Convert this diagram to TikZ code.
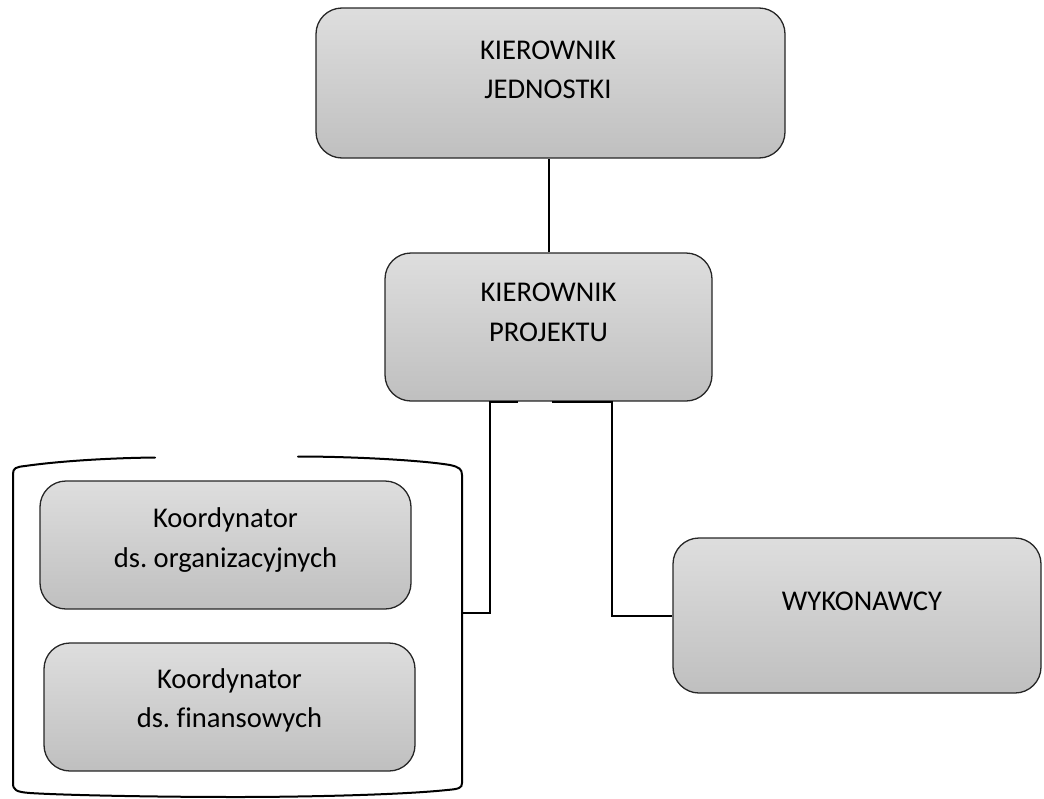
\documentclass[tikz,border=0pt]{standalone}
\usepackage{fontspec}
\setmainfont[Ligatures=NoCommon]{Carlito}
\frenchspacing
\begin{document}
\begin{tikzpicture}[x=1pt,y=-1pt,
  box/.style={draw=black!85, line width=1.3pt, rounded corners=26pt, top color=gray!26, bottom color=gray!50, inner sep=0pt},
  txt/.style={anchor=base, inner sep=0pt, font=\fontsize{28.6}{39}\selectfont},
  conn/.style={draw=black, line width=2pt},
  brk/.style={draw=black, line width=2pt, line cap=round}]
\useasboundingbox (0,0) rectangle (1044,798);
% boxes
\node[box, minimum width=469pt, minimum height=150pt] (kj) at (550.5,83) {};
\node[box, minimum width=327pt, minimum height=148pt] (kp) at (548.5,327) {};
\node[box, minimum width=368pt, minimum height=155pt] (wyk) at (857,615.5) {};
\node[box, minimum width=371pt, minimum height=128pt] (ko) at (225.5,545) {};
\node[box, minimum width=371pt, minimum height=128pt] (kf) at (229.5,707) {};
% texts
\node[txt] (kj1) at (548,59) {KIEROWNIK};
\node[txt] (kj2) at (548,98) {JEDNOSTKI};
\node[txt] (kp1) at (548.5,301) {KIEROWNIK};
\node[txt] (kp2) at (548.5,341) {PROJEKTU};
\node[txt] (wyk1) at (862,610) {WYKONAWCY};
\node[txt] (ko1) at (225.5,527) {Koordynator};
\node[txt] (ko2) at (225.5,567) {ds. organizacyjnych};
\node[txt] (kf1) at (229.5,688) {Koordynator};
\node[txt] (kf2) at (229.5,727) {ds. finansowych};
% bracket
\draw[brk] (13,783) -- (13,474) .. controls (13,468) and (16,467) .. (25,466)
  .. controls (60,461) and (110,458) .. (155,457.5);
\draw[brk] (298,456.5) .. controls (350,456.5) and (420,460) .. (450,465)
  .. controls (459,467) and (462,469) .. (462,475) -- (462,783)
  .. controls (462,788) and (459,789) .. (447,790)
  .. controls (400,795) and (300,797) .. (237,797)
  .. controls (150,797) and (60,795) .. (30,793)
  .. controls (16,792) and (13,790) .. (13,783);
\coordinate (brR) at (462,613);
\coordinate (lc) at (490,613);
\coordinate (rc) at (612,615.5);
% connectors
\draw[conn] (kp.north) -- (kp.north |- kj.south);
\draw[conn] ([xshift=-30.5pt]kp.south) -| (lc) -- (brR);
\draw[conn] ([xshift=3.5pt]kp.south) -| (rc) -- (wyk.west);
\end{tikzpicture}
\end{document}
